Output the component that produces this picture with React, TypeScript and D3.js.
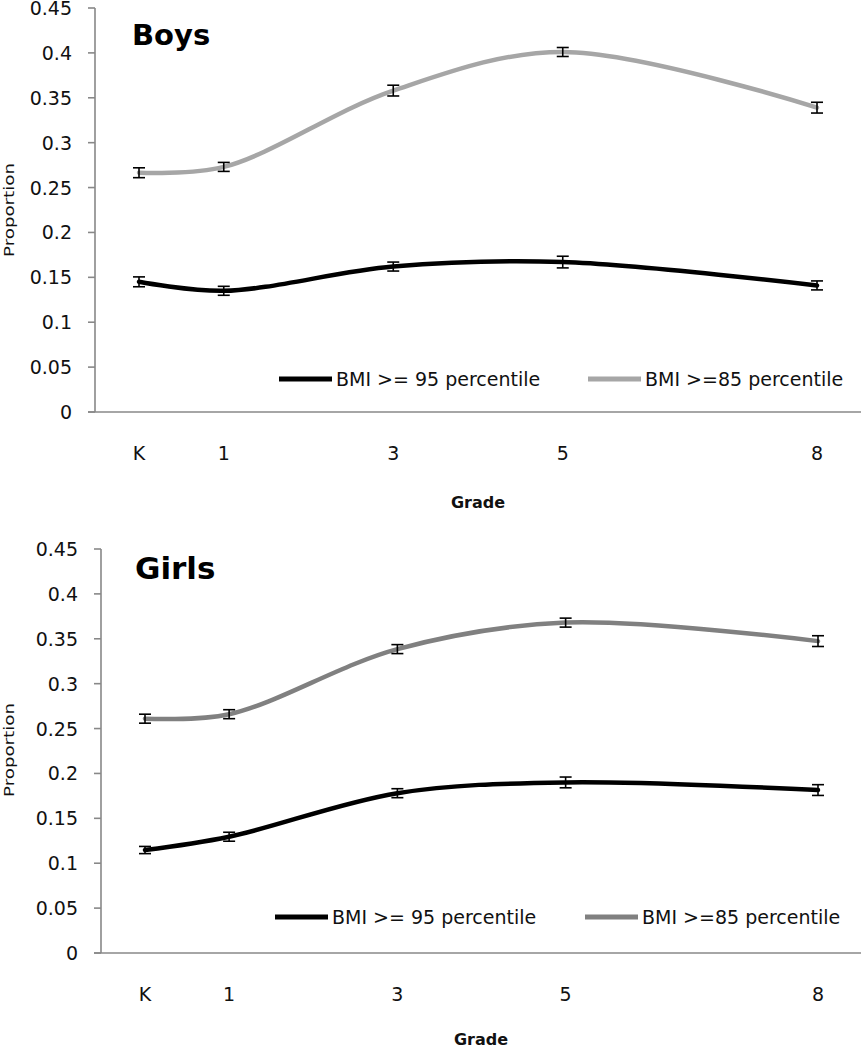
import React from "react";
import * as d3 from "d3";

const gradeLabels = ["K", "1", "3", "5", "8"];
const gradeValues = [0, 1, 3, 5, 8];
const yTickValues = [0, 0.05, 0.1, 0.15, 0.2, 0.25, 0.3, 0.35, 0.4, 0.45];
const yTickLabels = ["0", "0.05", "0.1", "0.15", "0.2", "0.25", "0.3", "0.35", "0.4", "0.45"];
const seriesNames = ["BMI >= 95 percentile", "BMI >=85 percentile"];

const boys95 = [0.145, 0.135, 0.162, 0.167, 0.141];
const boys95Err = [0.0055, 0.005, 0.005, 0.0065, 0.005];
const boys85 = [0.2665, 0.273, 0.358, 0.401, 0.339];
const boys85Err = [0.0055, 0.005, 0.006, 0.005, 0.006];

const girls95 = [0.1147, 0.1295, 0.178, 0.19, 0.1815];
const girls95Err = [0.004, 0.005, 0.005, 0.006, 0.006];
const girls85 = [0.261, 0.266, 0.3385, 0.368, 0.3474];
const girls85Err = [0.005, 0.005, 0.005, 0.005, 0.006];

const FONT = "'DejaVu Sans', Verdana, sans-serif";

type PanelProps = {
  title: string;
  titleX: number;
  titleY: number;
  titleSize: number;
  axisX: number;
  yTop: number;
  yBottom: number;
  xFirst: number;
  xLast: number;
  s95: number[];
  e95: number[];
  s85: number[];
  e85: number[];
  color85: string;
  legendY: number;
  legend1X: number;
  legend2X: number;
  gradeLabelX: number;
  gradeLabelDy: number;
  propLabelY: number;
};

function Panel(p: PanelProps) {
  const x = d3.scaleLinear().domain([0, 8]).range([p.xFirst, p.xLast]);
  const y = d3.scaleLinear().domain([0, 0.45]).range([p.yBottom, p.yTop]);
  const line = d3
    .line<number>()
    .x((_, i) => x(gradeValues[i]))
    .y((d) => y(d))
    .curve(d3.curveCatmullRom.alpha(0.5));
  const axisColor = "#888888";
  const series = [
    { vals: p.s95, errs: p.e95, color: "#000000" },
    { vals: p.s85, errs: p.e85, color: p.color85 },
  ];
  const sampleLen = 53;
  return (
    <g>
      <line x1={p.axisX} x2={p.axisX} y1={y(0.45)} y2={y(0)} stroke={axisColor} strokeWidth={1.6} />
      <line x1={p.axisX - 7} x2={861} y1={y(0)} y2={y(0)} stroke={axisColor} strokeWidth={1.6} />
      {yTickValues.map((v, i) => (
        <g key={i}>
          <line x1={p.axisX - 7} x2={p.axisX} y1={y(v)} y2={y(v)} stroke={axisColor} strokeWidth={1.6} />
          <text
            x={p.axisX - 23}
            y={y(v)}
            textAnchor="end"
            dominantBaseline="central"
            fontFamily={FONT}
            fontSize={19}
            fill="#111"
          >
            {yTickLabels[i]}
          </text>
        </g>
      ))}
      {gradeLabels.map((g, i) => (
        <text
          key={g}
          x={x(gradeValues[i])}
          y={y(0) + 41}
          textAnchor="middle"
          dominantBaseline="central"
          fontFamily={FONT}
          fontSize={19}
          fill="#111"
        >
          {g}
        </text>
      ))}
      <text
        x={p.gradeLabelX}
        y={y(0) + p.gradeLabelDy}
        textAnchor="middle"
        dominantBaseline="central"
        fontFamily={FONT}
        fontSize={16}
        fontWeight="bold"
        fill="#111"
      >
        Grade
      </text>
      <text
        transform={`translate(9,${p.propLabelY}) rotate(-90)`}
        textAnchor="middle"
        dominantBaseline="central"
        fontFamily={FONT}
        fontSize={14}
        textLength={94}
        lengthAdjust="spacingAndGlyphs"
        fill="#111"
      >
        Proportion
      </text>
      <text x={p.titleX} y={p.titleY} fontFamily={FONT} fontSize={p.titleSize} fontWeight="bold" fill="#000">
        {p.title}
      </text>
      {series.map((s, si) => (
        <path key={si} d={line(s.vals) || ""} fill="none" stroke={s.color} strokeWidth={4.5} strokeLinejoin="round" strokeLinecap="round" />
      ))}
      {series.map((s, si) =>
        s.vals.map((v, i) => {
          const cx = x(gradeValues[i]);
          const y1 = y(v + s.errs[i]);
          const y2 = y(v - s.errs[i]);
          return (
            <g key={`${si}-${i}`} stroke="#000" strokeWidth={1.6}>
              <line x1={cx} x2={cx} y1={y1} y2={y2} />
              <line x1={cx - 6} x2={cx + 6} y1={y1} y2={y1} />
              <line x1={cx - 6} x2={cx + 6} y1={y2} y2={y2} />
            </g>
          );
        })
      )}
      {[p.legend1X, p.legend2X].map((lx, i) => (
        <g key={i}>
          <line
            x1={lx}
            x2={lx + sampleLen}
            y1={p.legendY}
            y2={p.legendY}
            stroke={series[i].color}
            strokeWidth={5}
          />
          <text
            x={lx + sampleLen + 4}
            y={p.legendY}
            dominantBaseline="central"
            fontFamily={FONT}
            fontSize={19}
            fill="#111"
          >
            {seriesNames[i]}
          </text>
        </g>
      ))}
    </g>
  );
}

export default function App() {
  return (
    <div style={{ position: "absolute", left: 0, top: 0 }}>
      <svg width={861} height={1050} style={{ display: "block", background: "#fff" }}>
        <Panel
          title="Boys"
          titleX={132}
          titleY={45}
          titleSize={29}
          axisX={95}
          yTop={8}
          yBottom={412}
          xFirst={139}
          xLast={817}
          s95={boys95}
          e95={boys95Err}
          s85={boys85}
          e85={boys85Err}
          color85="#a6a6a6"
          legendY={379}
          legend1X={279}
          legend2X={588}
          gradeLabelX={478}
          gradeLabelDy={90}
          propLabelY={210}
        />
        <Panel
          title="Girls"
          titleX={135}
          titleY={579}
          titleSize={31}
          axisX={101}
          yTop={549}
          yBottom={953}
          xFirst={145}
          xLast={818}
          s95={girls95}
          e95={girls95Err}
          s85={girls85}
          e85={girls85Err}
          color85="#808080"
          legendY={917}
          legend1X={275}
          legend2X={585}
          gradeLabelX={481}
          gradeLabelDy={86}
          propLabelY={750}
        />
      </svg>
    </div>
  );
}
